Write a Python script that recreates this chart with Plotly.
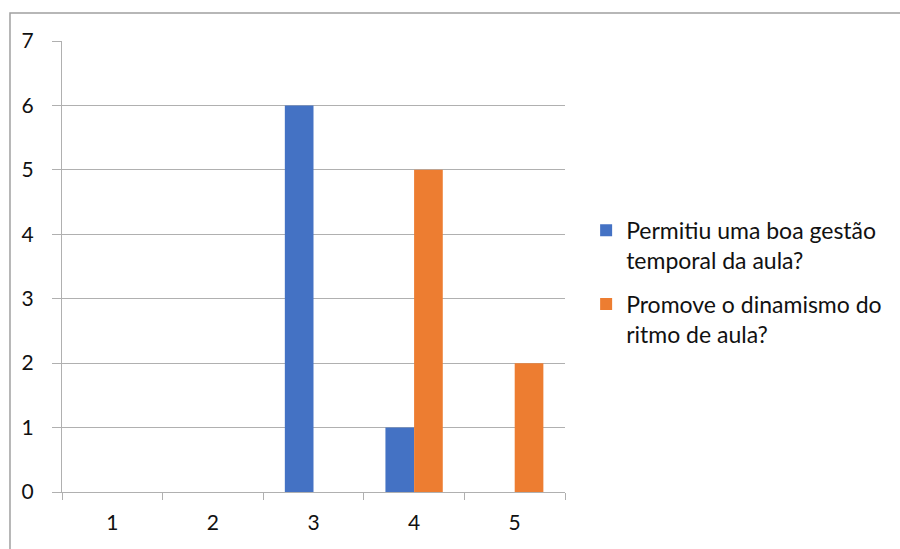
import plotly.graph_objects as go

categories = ["1", "2", "3", "4", "5"]
gestao_temporal = [0, 0, 6, 1, 0]
dinamismo_ritmo = [0, 0, 0, 5, 2]
series_names = [
    "Permitiu uma boa gestão<br>temporal da aula?",
    "Promove o dinamismo do<br>ritmo de aula?",
]
y_ticks = [0, 1, 2, 3, 4, 5, 6, 7]

FONT = "Lato"
GRID = "#b0b0b0"

fig = go.Figure()
fig.add_trace(go.Bar(x=categories, y=gestao_temporal, name=series_names[0],
                     legendgroup="g1",
                     marker=dict(color="#4472C4", line=dict(width=0))))
fig.add_trace(go.Bar(x=categories, y=dinamismo_ritmo, name=series_names[1],
                     legendgroup="g2",
                     marker=dict(color="#ED7D31", line=dict(width=0))))

fig.update_layout(
    width=900, height=549,
    margin=dict(l=62, r=335, t=41, b=57),
    paper_bgcolor="white", plot_bgcolor="white",
    bargap=0.43, bargroupgap=0,
    font=dict(family=FONT, size=21, color="#111111"),
    showlegend=True,
    # legend sits to the right of the plot area
    legend=dict(x=1.042, y=0.628, xanchor="left", yanchor="top",
                xref="paper", yref="paper",
                font=dict(family=FONT, size=23, color="#111111"),
                tracegroupgap=11, itemwidth=30, valign="top"),
    shapes=[dict(type="rect", xref="paper", yref="paper",
                 x0=-0.1034, x1=2.0, y0=-0.3, y1=1.062,
                 line=dict(color="#a0a0a0", width=1.5), layer="below")],
)
fig.update_xaxes(
    type="category", tickson="boundaries", ticks="outside", ticklen=7,
    tickcolor=GRID, showline=True, linecolor=GRID, linewidth=1,
    showgrid=False, tickfont=dict(size=21), ticklabelstandoff=12,
)
fig.update_yaxes(
    range=[0, 7], tickvals=y_ticks, ticks="outside", ticklen=9,
    tickcolor=GRID, showline=True, linecolor=GRID, linewidth=1,
    showgrid=True, gridcolor=GRID, gridwidth=1, zeroline=False,
    tickfont=dict(size=21), ticklabelstandoff=14,
)

fig.write_html("out.html")
